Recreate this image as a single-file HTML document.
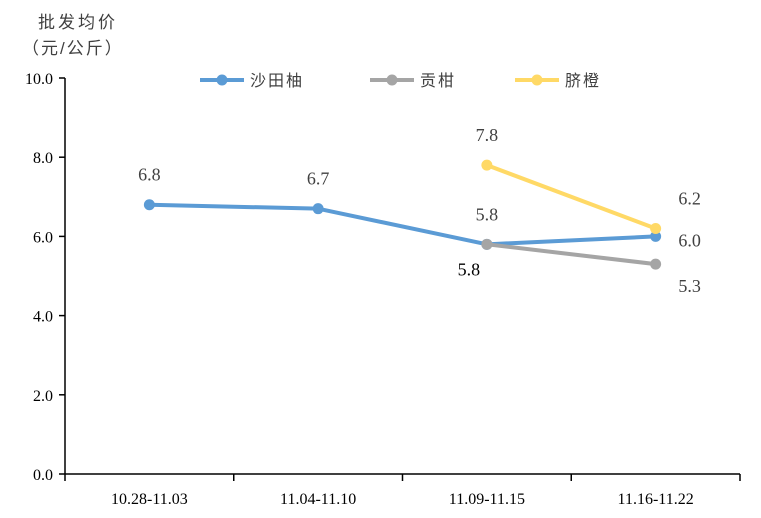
<!DOCTYPE html>
<html><head><meta charset="utf-8"><style>
body{margin:0;background:#fff}
svg{display:block}
text{font-family:"Liberation Serif","Noto Serif CJK SC",serif}
.cjk{font-family:"Liberation Sans","Noto Sans CJK SC",sans-serif}
</style></head><body>
<svg id="chart" width="761" height="518" viewBox="0 0 761 518">
<text class="cjk" x="38" y="28" font-size="17" letter-spacing="3" fill="#404040">批发均价</text>
<text class="cjk" x="22" y="54" font-size="17" letter-spacing="2" fill="#404040">（元/公斤）</text>
<g id="axes"></g><g id="series"></g><g id="legend"></g>
</svg>
<script>
const categories=["10.28-11.03","11.04-11.10","11.09-11.15","11.16-11.22"];
const yTicks=[0,2,4,6,8,10];
const seriesNames=["沙田柚","贡柑","脐橙"];
const seriesColors=["#5b9bd5","#a5a5a5","#ffd966"];
const shatianyou=[6.8,6.7,5.8,6.0];
const gonggan=[null,null,5.8,5.3];
const qicheng=[null,null,7.8,6.2];
const seriesData=[shatianyou,gonggan,qicheng];
const labelOffsets=[[-30,-30,-30,0],[0,0,25,22],[0,0,-30,-30]];

const NS="http://www.w3.org/2000/svg";
const X0=65,X1=740,Y0=474,Y1=78;
const bw=(X1-X0)/categories.length;
const xs=i=>X0+bw*(i+0.5);
const ys=v=>Y0-(v-0)/(10-0)*(Y0-Y1);
function mk(tag,attrs,parent){const e=document.createElementNS(NS,tag);for(const k in attrs)e.setAttribute(k,attrs[k]);parent.appendChild(e);return e;}
const axes=document.getElementById('axes');
let a=mk('line',{x1:X0,y1:Y1,x2:X0,y2:Y0,stroke:'#000','stroke-width':1.5},axes);

a=mk('line',{x1:X0,y1:Y0,x2:X1,y2:Y0,stroke:'#000','stroke-width':1.5},axes);

yTicks.forEach(v=>{
  mk('line',{x1:X0-6,y1:ys(v),x2:X0,y2:ys(v),stroke:'#000','stroke-width':1.5},axes);
  const t=mk('text',{x:X0-12,y:ys(v)+6,'text-anchor':'end','font-size':16,fill:'#000'},axes);
  t.textContent=v.toFixed(1);
  
  
});
for(let i=0;i<=categories.length;i++){mk('line',{x1:X0+bw*i,y1:Y0,x2:X0+bw*i,y2:Y0+7,stroke:'#000','stroke-width':1.5},axes);}
categories.forEach((c,i)=>{
  const t=mk('text',{x:xs(i),y:Y0+30,'text-anchor':'middle','font-size':16,fill:'#000'},axes);
  t.textContent=c;
  
  
});
const sg=document.getElementById('series');
seriesData.forEach((d,s)=>{
  const pts=[];d.forEach((v,i)=>{if(v!=null)pts.push([xs(i),ys(v),v,i]);});
  const pl=mk('polyline',{points:pts.map(p=>p[0]+','+p[1]).join(' '),fill:'none',stroke:seriesColors[s],'stroke-width':4,'stroke-linejoin':'round'},sg);
  
  
  pts.forEach(p=>{
    const c=mk('circle',{cx:p[0],cy:p[1],r:5.5,fill:seriesColors[s]},sg);
    
    
    let dx=0,dy=labelOffsets[s][p[3]];
    if(p[3]===3)dx=34;
    if(s===1&&p[3]===2)dx=-18;
    if(s===0&&p[3]===3)dy=4;
    const t=mk('text',{x:p[0]+dx,y:p[1]+dy+6,'text-anchor':'middle','font-size':18,fill:(s===1&&p[3]===2)?'#000':'#404040'},sg);
    t.textContent=p[2].toFixed(1);
    
    
  });
});
const lg=document.getElementById('legend');
const lx=[200,370,515];
seriesNames.forEach((n,s)=>{
  const g=mk('g',{},lg);
  
  
  mk('line',{x1:lx[s],y1:80,x2:lx[s]+44,y2:80,stroke:seriesColors[s],'stroke-width':4},g);
  mk('circle',{cx:lx[s]+22,cy:80,r:5.5,fill:seriesColors[s]},g);
  const t=mk('text',{x:lx[s]+50,y:86,'font-size':16,'letter-spacing':2,fill:'#404040','class':'cjk'},g);
  t.textContent=n;
});
</script>
</body></html>
